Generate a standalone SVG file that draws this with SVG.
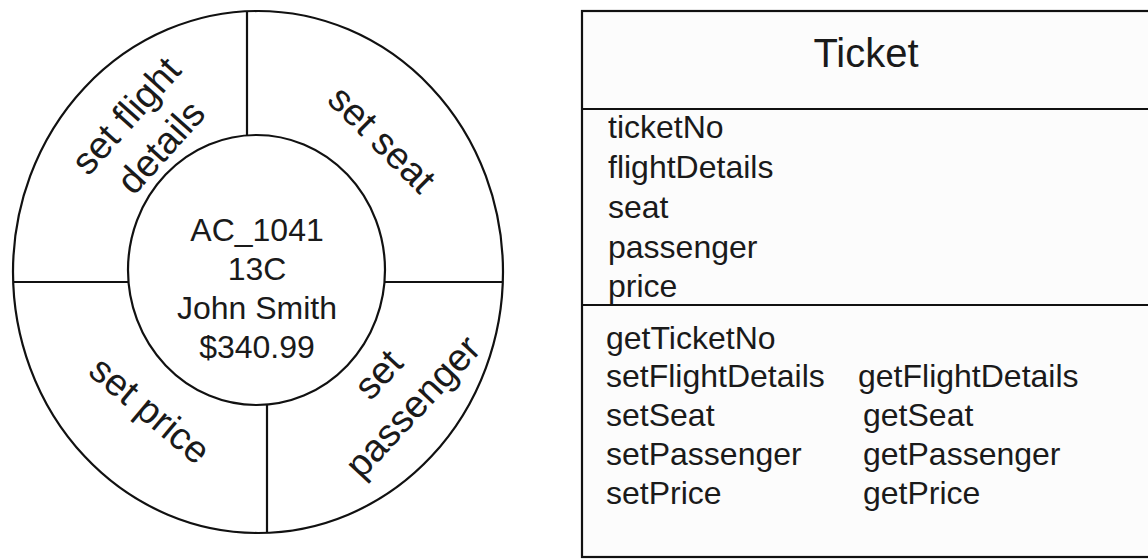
<svg xmlns="http://www.w3.org/2000/svg" width="1148" height="560" viewBox="0 0 1148 560">
<style>
.ln{fill:none;stroke:#111;stroke-width:2.2}
.t{font-family:"Liberation Sans",Arial,sans-serif;fill:#1a1a1a}
.c{text-anchor:middle;font-size:32px}
.r{text-anchor:middle;font-size:38px}
.a{font-size:32px}
</style>
<rect width="1148" height="560" fill="#ffffff"/>
<g id="ring">
<ellipse class="ln" cx="258" cy="272" rx="245" ry="261"/>
<ellipse class="ln" cx="256.5" cy="270" rx="128.5" ry="135"/>
</g>
<g id="dividers">
<line class="ln" x1="247" y1="11" x2="247" y2="135.5"/>
<line class="ln" x1="267" y1="404.5" x2="267" y2="533"/>
<line class="ln" x1="13" y1="282" x2="128.5" y2="282"/>
<line class="ln" x1="384.5" y1="282" x2="503" y2="282"/>
</g>
<g id="center-text" class="t c">
<text x="257" y="241">AC_1041</text>
<text x="257" y="280">13C</text>
<text x="257" y="319">John Smith</text>
<text x="257" y="358">$340.99</text>
</g>
<g id="seg-flight" class="t r" transform="translate(143,131) rotate(-48)">
<text x="0" y="-10">set flight</text>
<text x="0" y="37">details</text>
</g>
<g id="seg-seat" class="t r" transform="translate(382,139) rotate(45)">
<text x="0" y="13">set seat</text>
</g>
<g id="seg-price" class="t r" transform="translate(150,410) rotate(40)">
<text x="0" y="13">set price</text>
</g>
<g id="seg-passenger" class="t r" transform="translate(395,390) rotate(-47)">
<text x="0" y="-10">set</text>
<text x="0" y="37">passenger</text>
</g>
<g id="ticket-class">
<rect x="582" y="11" width="600" height="546" fill="#fcfcfc" stroke="#111" stroke-width="2.2"/>
<line class="ln" x1="582" y1="109" x2="1148" y2="109"/>
<line class="ln" x1="582" y1="305" x2="1148" y2="305"/>
<text class="t" x="866" y="67" text-anchor="middle" font-size="40">Ticket</text>
<g class="t a">
<text x="608" y="138">ticketNo</text>
<text x="608" y="178">flightDetails</text>
<text x="608" y="218">seat</text>
<text x="608" y="258">passenger</text>
<text x="608" y="297">price</text>
<text x="606" y="349">getTicketNo</text>
<text x="606" y="387">setFlightDetails</text>
<text x="606" y="426">setSeat</text>
<text x="606" y="465">setPassenger</text>
<text x="606" y="504">setPrice</text>
<text x="858" y="387">getFlightDetails</text>
<text x="863" y="426">getSeat</text>
<text x="863" y="465">getPassenger</text>
<text x="863" y="504">getPrice</text>
</g>
</g>
</svg>
